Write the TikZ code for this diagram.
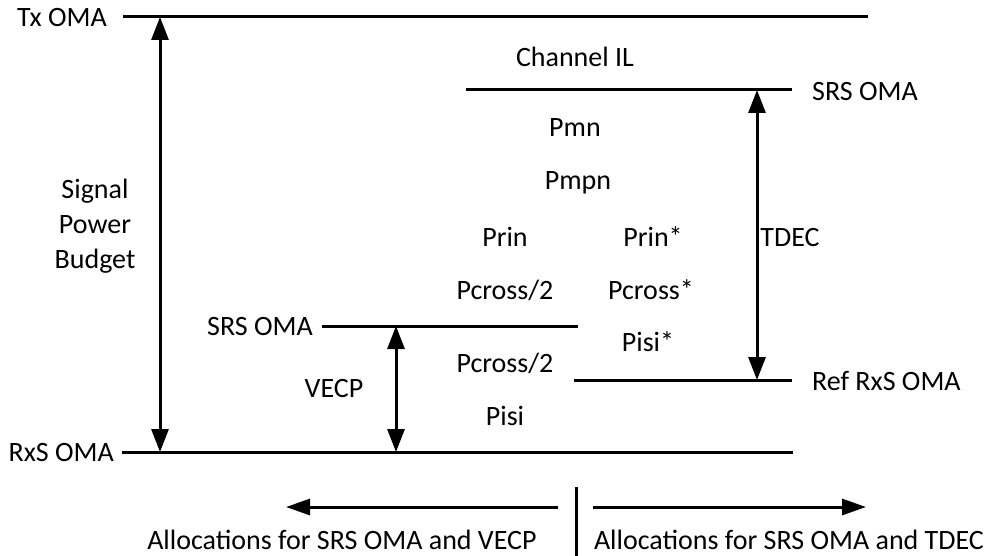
\documentclass[tikz,border=0pt]{standalone}
\usepackage{fontspec}
\setmainfont{Carlito}
\usetikzlibrary{arrows.meta}
\tikzset{
  lvl/.style={line width=3pt},
  dim/.style={line width=3pt,{Triangle[width=17pt,length=23pt]}-{Triangle[width=17pt,length=23pt]}},
  oneway/.style={line width=3pt,-{Triangle[width=16pt,length=24pt]}},
  lab/.style={font=\fontsize{28}{35}\selectfont,inner sep=0pt,text=black}
}
\begin{document}
\begin{tikzpicture}[x=1pt,y=-1pt]
\useasboundingbox (0,0) rectangle (990,556);
% levels
\coordinate (txL) at (123,17); \coordinate (txR) at (868,17);
\coordinate (srsL) at (466,90); \coordinate (srsR) at (792,90);
\coordinate (msL) at (322,326); \coordinate (msR) at (578,326);
\coordinate (refL) at (574,380); \coordinate (refR) at (792,380);
\coordinate (rxL) at (122,452); \coordinate (rxR) at (793,452);
\draw[lvl] (txL) -- (txR);
\draw[lvl] (srsL) -- (srsR);
\draw[lvl] (msL) -- (msR);
\draw[lvl] (refL) -- (refR);
\draw[lvl] (rxL) -- (rxR);
% dimension arrows
\coordinate (spbT) at (160,17); \coordinate (spbB) at (160,452);
\coordinate (tdT) at (757,90); \coordinate (tdB) at (757,380);
\coordinate (veT) at (396,326); \coordinate (veB) at (396,452);
\draw[dim] (spbT) -- (spbB);
\draw[dim] (tdT) -- (tdB);
\draw[dim] (veT) -- (veB);
% labels
\node[lab,anchor=east] (ltx) at (107,18) {Tx OMA};
\node[lab,align=center] (lspb) at (95,226) {Signal\\Power\\Budget};
\node[lab] (lch) at (575,57) {Channel IL};
\node[lab,anchor=west] (lsrs) at (812,92) {SRS OMA};
\node[lab] (lpmn) at (575,128) {Pmn};
\node[lab] (lpmpn) at (578,183) {Pmpn};
\node[lab] (lprin) at (505,237) {Prin};
\node[lab] (lprins) at (653,237) {Prin*};
\node[lab] (ltdec) at (790,238) {TDEC};
\node[lab] (lpc1) at (505,290) {Pcross/2};
\node[lab] (lpcs) at (651,290) {Pcross*};
\node[lab,anchor=east] (lmsrs) at (313,327) {SRS OMA};
\node[lab] (lpisis) at (648,342) {Pisi*};
\node[lab] (lpc2) at (505,363) {Pcross/2};
\node[lab,anchor=west] (lref) at (812,381) {Ref RxS OMA};
\node[lab] (lvecp) at (334,389) {VECP};
\node[lab] (lpisi) at (505,416) {Pisi};
\node[lab,anchor=east] (lrx) at (114,453) {RxS OMA};
% bottom
\coordinate (divT) at (576,487); \coordinate (divB) at (576,556);
\draw[line width=3pt] (divT) -- (divB);
\coordinate (laS) at (558,507); \coordinate (laE) at (286,507);
\coordinate (raS) at (593,507); \coordinate (raE) at (866,507);
\draw[oneway] (laS) -- (laE);
\draw[oneway] (raS) -- (raE);
\node[lab] (lbl) at (342,540) {Allocations for SRS OMA and VECP};
\node[lab] (lbr) at (789,540) {Allocations for SRS OMA and TDEC};
\end{tikzpicture}
\end{document}
